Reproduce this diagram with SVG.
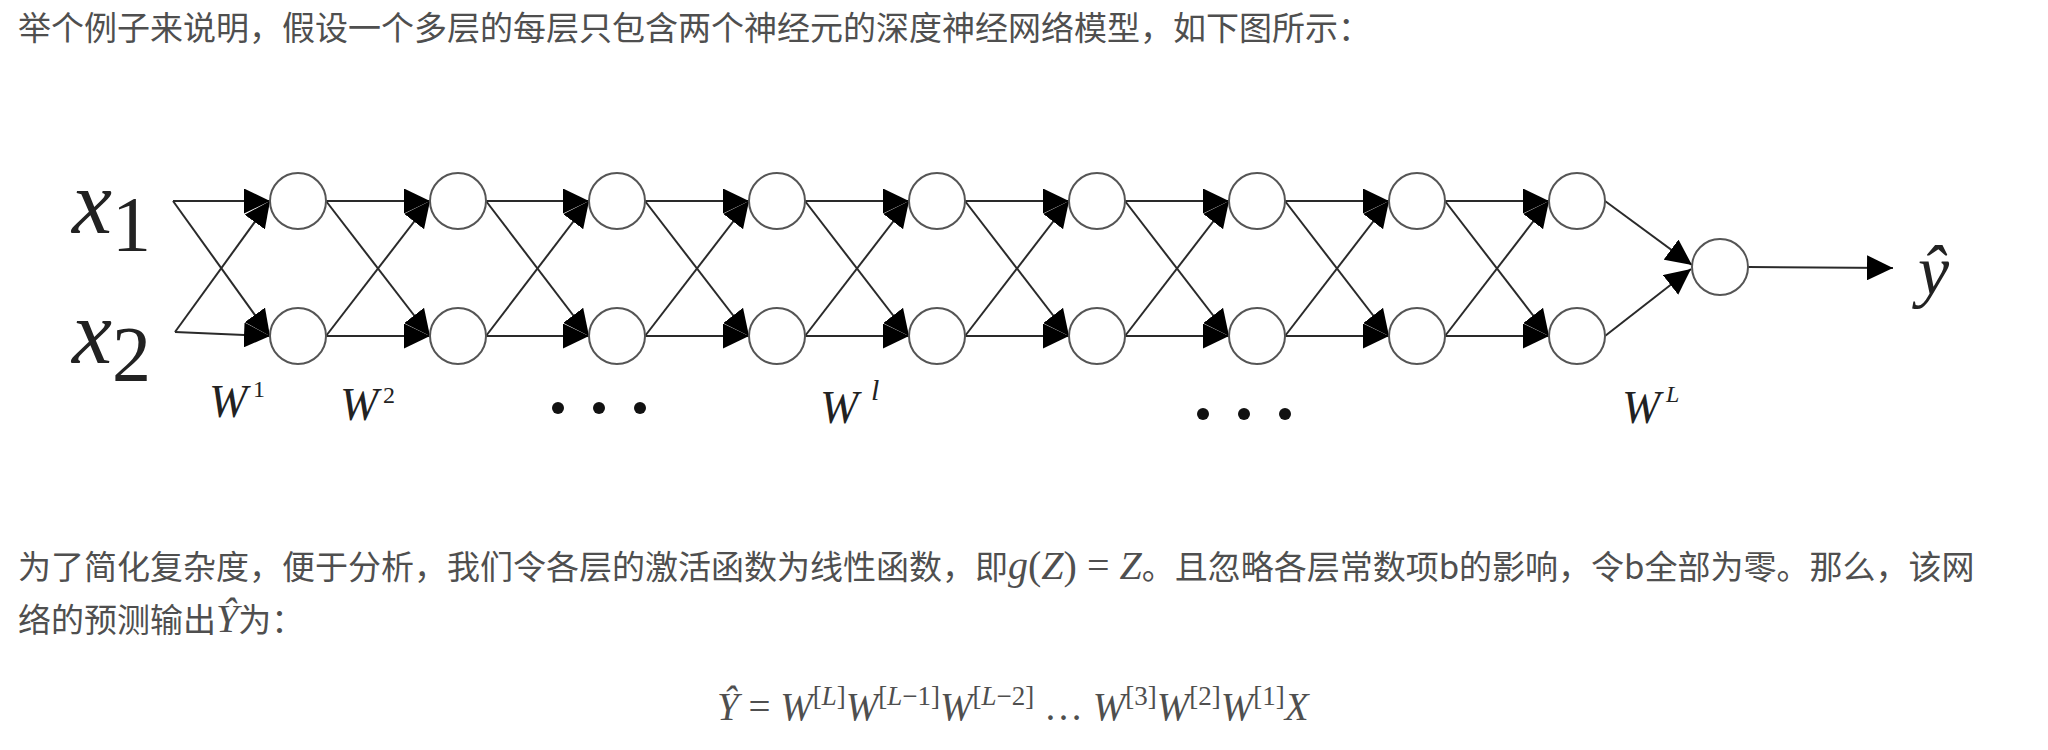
<svg xmlns="http://www.w3.org/2000/svg" width="2048" height="750" viewBox="0 0 2048 750">
<style>
.t{font-family:"Noto Sans CJK SC","Noto Sans",sans-serif;font-size:33px;fill:#4f4f4f}
.m{font-family:"Liberation Serif","Times New Roman",serif;font-size:40px;fill:#4f4f4f}
.i{font-style:italic}
.lab{font-family:"Liberation Serif","Times New Roman",serif;fill:#222}
.f{font-family:"Liberation Serif","Times New Roman",serif;font-size:39px;fill:#4f4f4f}
.sup{font-size:27px}
.n{fill:#fff;stroke:#555;stroke-width:2}
.c line{stroke:#2a2a2a;stroke-width:2;marker-end:url(#ah)}
.dot{fill:#111}
</style>
<defs>
<marker id="ah" markerUnits="userSpaceOnUse" markerWidth="26" markerHeight="25" refX="26" refY="12.5" orient="auto" viewBox="0 0 26 25">
<path d="M0,0 L26,12.5 L0,25 z" fill="#000"/>
</marker>
</defs>
<rect width="2048" height="750" fill="#fff"/>
<text class="t" x="18" y="40">举个例子来说明，假设一个多层的每层只包含两个神经元的深度神经网络模型，如下图所示：</text>

<g id="connectors" class="c">
<line x1="173" y1="201" x2="270" y2="201"/>
<line x1="173" y1="201" x2="270" y2="336"/>
<line x1="175" y1="332" x2="270" y2="336"/>
<line x1="175" y1="332" x2="270" y2="201"/>
<line x1="326" y1="201" x2="430" y2="201"/><line x1="326" y1="201" x2="430" y2="336"/><line x1="326" y1="336" x2="430" y2="336"/><line x1="326" y1="336" x2="430" y2="201"/>
<line x1="486" y1="201" x2="589" y2="201"/><line x1="486" y1="201" x2="589" y2="336"/><line x1="486" y1="336" x2="589" y2="336"/><line x1="486" y1="336" x2="589" y2="201"/>
<line x1="645" y1="201" x2="749" y2="201"/><line x1="645" y1="201" x2="749" y2="336"/><line x1="645" y1="336" x2="749" y2="336"/><line x1="645" y1="336" x2="749" y2="201"/>
<line x1="805" y1="201" x2="909" y2="201"/><line x1="805" y1="201" x2="909" y2="336"/><line x1="805" y1="336" x2="909" y2="336"/><line x1="805" y1="336" x2="909" y2="201"/>
<line x1="965" y1="201" x2="1069" y2="201"/><line x1="965" y1="201" x2="1069" y2="336"/><line x1="965" y1="336" x2="1069" y2="336"/><line x1="965" y1="336" x2="1069" y2="201"/>
<line x1="1125" y1="201" x2="1229" y2="201"/><line x1="1125" y1="201" x2="1229" y2="336"/><line x1="1125" y1="336" x2="1229" y2="336"/><line x1="1125" y1="336" x2="1229" y2="201"/>
<line x1="1285" y1="201" x2="1389" y2="201"/><line x1="1285" y1="201" x2="1389" y2="336"/><line x1="1285" y1="336" x2="1389" y2="336"/><line x1="1285" y1="336" x2="1389" y2="201"/>
<line x1="1445" y1="201" x2="1549" y2="201"/><line x1="1445" y1="201" x2="1549" y2="336"/><line x1="1445" y1="336" x2="1549" y2="336"/><line x1="1445" y1="336" x2="1549" y2="201"/>
<line x1="1605" y1="201" x2="1692" y2="265"/>
<line x1="1605" y1="336" x2="1691" y2="269"/>
<line x1="1748" y1="267" x2="1893" y2="268"/>
</g>

<g id="input-x1"><text class="lab" x="72" y="233" font-size="90" font-style="italic">x</text><text class="lab" x="112" y="250" font-size="78">1</text></g>
<g id="input-x2"><text class="lab" x="72" y="363" font-size="90" font-style="italic">x</text><text class="lab" x="112" y="380" font-size="78">2</text></g>

<g id="layer1"><circle class="n" cx="298" cy="201" r="28"/><circle class="n" cx="298" cy="336" r="28"/></g>
<g id="layer2"><circle class="n" cx="458" cy="201" r="28"/><circle class="n" cx="458" cy="336" r="28"/></g>
<g id="layer3"><circle class="n" cx="617" cy="201" r="28"/><circle class="n" cx="617" cy="336" r="28"/></g>
<g id="layer4"><circle class="n" cx="777" cy="201" r="28"/><circle class="n" cx="777" cy="336" r="28"/></g>
<g id="layer5"><circle class="n" cx="937" cy="201" r="28"/><circle class="n" cx="937" cy="336" r="28"/></g>
<g id="layer6"><circle class="n" cx="1097" cy="201" r="28"/><circle class="n" cx="1097" cy="336" r="28"/></g>
<g id="layer7"><circle class="n" cx="1257" cy="201" r="28"/><circle class="n" cx="1257" cy="336" r="28"/></g>
<g id="layer8"><circle class="n" cx="1417" cy="201" r="28"/><circle class="n" cx="1417" cy="336" r="28"/></g>
<g id="layer9"><circle class="n" cx="1577" cy="201" r="28"/><circle class="n" cx="1577" cy="336" r="28"/></g>
<g id="output"><circle class="n" cx="1720" cy="267" r="28"/></g>
<g id="output-label"><text class="lab" x="1918" y="294" font-size="70" font-style="italic">ŷ</text></g>

<g id="weight-labels" class="lab">
<text x="209" y="417" font-size="46" font-style="italic">W</text><text x="253" y="397" font-size="24">1</text>
<text x="340" y="420" font-size="46" font-style="italic">W</text><text x="383" y="403" font-size="24">2</text>
<text x="820" y="423" font-size="46" font-style="italic">W</text><text x="871" y="400" font-size="30" font-style="italic">l</text>
<text x="1622" y="423" font-size="46" font-style="italic">W</text><text x="1666" y="402" font-size="24" font-style="italic">L</text>
</g>
<g id="ellipsis">
<circle class="dot" cx="558" cy="408" r="6"/><circle class="dot" cx="599" cy="408" r="6"/><circle class="dot" cx="640" cy="408" r="6"/>
<circle class="dot" cx="1203" cy="414" r="6"/><circle class="dot" cx="1244" cy="414" r="6"/><circle class="dot" cx="1285" cy="414" r="6"/>
</g>

<text class="t" x="18" y="579">为了简化复杂度，便于分析，我们令各层的激活函数为线性函数，即<tspan class="m"><tspan class="i">g</tspan>(<tspan class="i">Z</tspan>) = <tspan class="i">Z</tspan></tspan>。且忽略各层常数项b的影响，令b全部为零。那么，该网</text>
<text class="t" x="18" y="632">络的预测输出<tspan class="m i">Ŷ</tspan>为：</text>

<text id="formula" class="f" x="717" y="720"><tspan class="i">Ŷ</tspan> = <tspan class="i">W</tspan><tspan class="sup" dy="-15">[<tspan class="i">L</tspan>]</tspan><tspan class="i" dy="15">W</tspan><tspan class="sup" dy="-15">[<tspan class="i">L</tspan>−1]</tspan><tspan class="i" dy="15">W</tspan><tspan class="sup" dy="-15">[<tspan class="i">L</tspan>−2]</tspan><tspan dy="15"> … </tspan><tspan class="i">W</tspan><tspan class="sup" dy="-15">[3]</tspan><tspan class="i" dy="15">W</tspan><tspan class="sup" dy="-15">[2]</tspan><tspan class="i" dy="15">W</tspan><tspan class="sup" dy="-15">[1]</tspan><tspan class="i" dy="15">X</tspan></text>
</svg>
